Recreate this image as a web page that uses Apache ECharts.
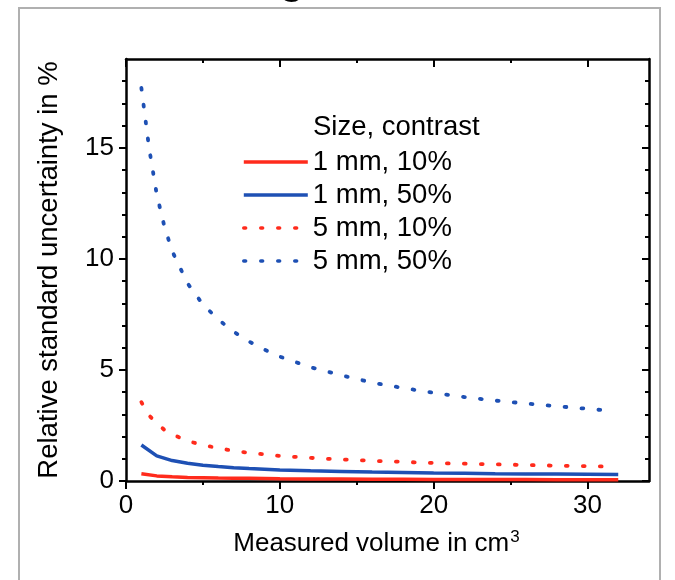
<!DOCTYPE html>
<html><head><meta charset="utf-8">
<script src="https://cdn.jsdelivr.net/npm/echarts@6/dist/echarts.min.js"></script>
<style>html,body{margin:0;padding:0;background:#fff}#c{width:675px;height:580px}</style>
</head><body><div id="c"></div>
<script>
// ---- data ----
const seriesNames = ['1 mm, 10%', '1 mm, 50%', '5 mm, 10%', '5 mm, 50%'];
const legendTitle = 'Size, contrast';
const xTitle = 'Measured volume in cm{sup|3}';
const yTitle = 'Relative standard uncertainty in %';
const xTicks = [0, 10, 20, 30];
const xMinorTicks = [5, 15, 25];
const yTicks = [0, 5, 10, 15];
const yMinorTicks = [1, 2, 3, 4, 6, 7, 8, 9, 11, 12, 13, 14, 16, 17, 18];

const volSolid = [1, 2, 3, 4, 5, 6, 7, 8, 9, 10, 12, 14, 16, 18, 20, 22, 24, 26, 28, 30, 32];
const u1mm10 = [0.33, 0.23, 0.19, 0.16, 0.15, 0.13, 0.12, 0.12, 0.11, 0.10, 0.09, 0.09, 0.08, 0.08, 0.07, 0.07, 0.07, 0.07, 0.06, 0.06, 0.06];
const u1mm50 = [1.62, 1.13, 0.92, 0.80, 0.71, 0.65, 0.60, 0.56, 0.53, 0.50, 0.46, 0.43, 0.40, 0.38, 0.36, 0.35, 0.33, 0.32, 0.31, 0.30, 0.29];

const volDotted = [1, 1.5, 2, 2.5, 3, 4, 5, 6, 7, 8, 9, 10, 12, 14, 16, 18, 20, 22, 24, 26, 28, 30, 31.5];
const u5mm10 = [3.55, 2.95, 2.6, 2.3, 2.1, 1.8, 1.62, 1.48, 1.36, 1.27, 1.2, 1.13, 1.04, 0.97, 0.91, 0.86, 0.81, 0.78, 0.75, 0.72, 0.69, 0.67, 0.65];
const u5mm50 = [17.7, 15.0, 12.9, 11.45, 10.35, 8.9, 7.95, 7.27, 6.72, 6.28, 5.92, 5.6, 5.12, 4.76, 4.43, 4.19, 3.97, 3.78, 3.62, 3.49, 3.37, 3.25, 3.16];

// ---- styling ----
const RED = '#ff2b1c', BLUE = '#1e50b4';
const FONT = 'Liberation Sans, Arial, sans-serif';
const zip = (xs, ys) => xs.map((x, i) => [x, ys[i]]);
const DOT = [1.8, 15.2];

const chart = echarts.init(document.getElementById('c'), null, {renderer: 'canvas'});

function xAx(pos, vals, len, inside, showLine, showLabel) {
  return {
    type: 'value', position: pos, min: 0, max: 34, gridIndex: 0,
    axisLine: {show: showLine, onZero: false, lineStyle: {color: '#000', width: 2.5}},
    axisTick: {show: true, customValues: vals, inside: inside, length: len, lineStyle: {color: '#000', width: 2}},
    axisLabel: {show: showLabel, customValues: vals, fontSize: 26, color: '#000', fontFamily: FONT, margin: 12},
    splitLine: {show: false}
  };
}
function yAx(pos, vals, len, inside, showLine, showLabel) {
  return {
    type: 'value', position: pos, min: 0, max: 19, gridIndex: 0,
    axisLine: {show: showLine, onZero: false, lineStyle: {color: '#000', width: 2.5}},
    axisTick: {show: true, customValues: vals, inside: inside, length: len, lineStyle: {color: '#000', width: 2}},
    axisLabel: {show: showLabel, customValues: vals, fontSize: 26, color: '#000', fontFamily: FONT, margin: 12},
    splitLine: {show: false}
  };
}

const xMain = xAx('bottom', xTicks, 8, false, true, true);
xMain.name = xTitle; xMain.nameLocation = 'middle'; xMain.nameGap = 48;
xMain.nameTextStyle = {fontSize: 26, color: '#000', fontFamily: FONT, padding: [0, 22, 0, 0],
  rich: {sup: {fontSize: 17, color: '#000', fontFamily: FONT, verticalAlign: 'top', padding: [0, 0, 12, 1]}}};
const yMain = yAx('left', yTicks, 7, false, true, true);
yMain.name = yTitle; yMain.nameLocation = 'middle'; yMain.nameGap = 63;
yMain.nameTextStyle = {fontSize: 27.5, color: '#000', fontFamily: FONT};

const option = {
  animation: false,
  backgroundColor: '#fff',
  grid: {left: 126, right: 26, top: 59, bottom: 99, containLabel: false},
  xAxis: [
    xMain,
    xAx('bottom', xMinorTicks, 4, false, false, false),
    xAx('top', xTicks, 8, true, true, false),
    xAx('top', xMinorTicks, 4, true, false, false)
  ],
  yAxis: [
    yMain,
    yAx('left', yMinorTicks, 4, false, false, false),
    yAx('right', yTicks, 7, true, true, false),
    yAx('right', yMinorTicks, 4, true, false, false)
  ],
  legend: {
    orient: 'vertical', left: 242, top: 148, padding: 0,
    itemWidth: 64, itemHeight: 20, itemGap: 5,
    itemStyle: {opacity: 0},
    lineStyle: {width: 3.6},
    textStyle: {fontSize: 27.5, color: '#000', fontFamily: FONT},
    data: seriesNames
  },
  graphic: [
    {type: 'rect', shape: {x: 19, y: 8, width: 641, height: 620}, style: {fill: 'none', stroke: '#b0b0b0', lineWidth: 2}, silent: true},
    {type: 'text', x: 292, y: 3, style: {text: 'g', font: 'bold 40px Liberation Sans, Arial', fill: '#000', textAlign: 'center', textVerticalAlign: 'bottom'}, silent: true},
    {type: 'text', x: 313, y: 127, style: {text: legendTitle, font: '27.5px Liberation Sans, Arial', fill: '#000', textAlign: 'left', textVerticalAlign: 'middle'}, silent: true}
  ],
  series: [
    {name: seriesNames[0], type: 'line', data: zip(volSolid, u1mm10), showSymbol: false, symbol: 'none', color: RED,
     lineStyle: {color: RED, width: 3.5}, z: 3},
    {name: seriesNames[1], type: 'line', data: zip(volSolid, u1mm50), showSymbol: false, symbol: 'none', color: BLUE,
     lineStyle: {color: BLUE, width: 3.5}, z: 3},
    {name: seriesNames[2], type: 'line', data: zip(volDotted, u5mm10), showSymbol: false, symbol: 'none', color: RED,
     lineStyle: {color: RED, width: 3.8, type: DOT, cap: 'round'}, z: 3},
    {name: seriesNames[3], type: 'line', data: zip(volDotted, u5mm50), showSymbol: false, symbol: 'none', color: BLUE,
     lineStyle: {color: BLUE, width: 3.8, type: DOT, cap: 'round'}, z: 3}
  ]
};
chart.setOption(option);
</script></body></html>
